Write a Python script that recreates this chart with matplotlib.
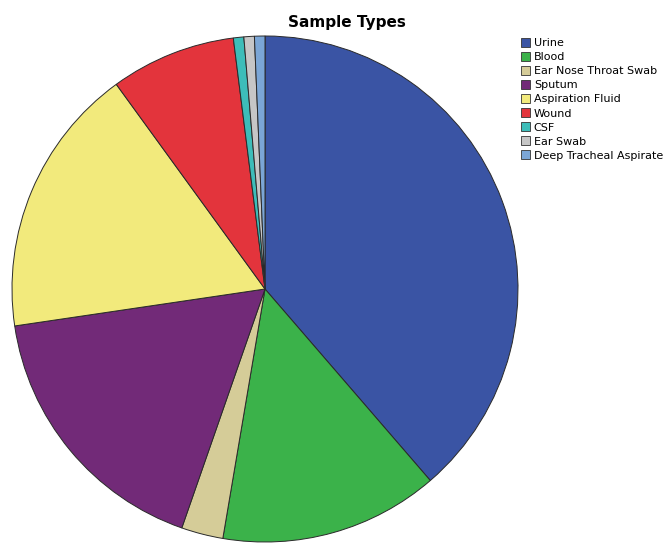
import matplotlib
matplotlib.use("Agg")
import matplotlib.pyplot as plt
from matplotlib.patches import Patch

# sample counts per specimen type
labels = ["Urine", "Blood", "Ear Nose Throat Swab", "Sputum", "Aspiration Fluid",
          "Wound", "CSF", "Ear Swab", "Deep Tracheal Aspirate"]
counts = [58, 21, 4, 26, 26, 12, 1, 1, 1]
colors = ["#3a54a4", "#3bb24a", "#d5cc98", "#722a78", "#f2ea7c",
          "#e3343c", "#3dbdb9", "#c6c6c6", "#7ba6d6"]

fig = plt.figure(figsize=(6.67, 5.43), dpi=100)

# pie axes: centre ~ (265, 289) px, radius ~253 px
W, H = 667, 543
cx, cy, r = 265, 289, 253
ax = fig.add_axes([(cx - r) / W, (H - cy - r) / H, 2 * r / W, 2 * r / H])
ax.pie(counts, colors=colors, startangle=90, counterclock=False, radius=1,
       wedgeprops=dict(edgecolor="#2a2a2a", linewidth=0.7))
ax.set_xlim(-1.0, 1.0)
ax.set_ylim(-1.0, 1.0)
ax.set_aspect("equal")
ax.axis("off")
for p in ax.patches:
    p.set_clip_on(False)

fig.text(347 / W, 1 - 22 / H, "Sample Types", ha="center", va="center",
         fontsize=11, fontweight="bold")

handles = [Patch(facecolor=c, edgecolor="#333333", linewidth=0.6) for c in colors]
fig.legend(handles, labels, loc="upper left", bbox_to_anchor=(521 / W, 1 - 38 / H),
           frameon=False, fontsize=8, handlelength=0.85, handleheight=0.85,
           handletextpad=0.3, labelspacing=0.34, borderaxespad=0, borderpad=0)

fig.savefig("out.png", dpi=100)
